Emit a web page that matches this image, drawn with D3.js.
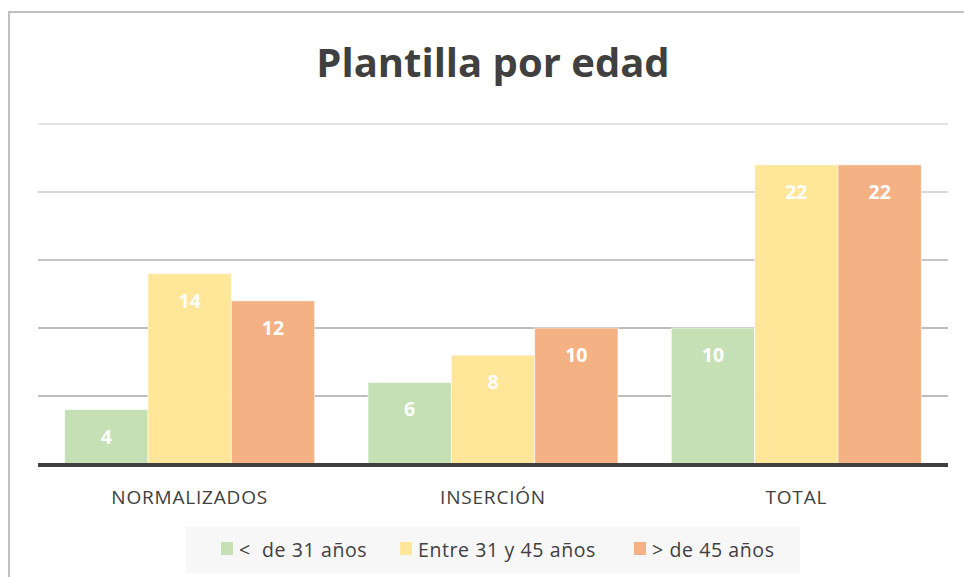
<!DOCTYPE html>
<html>
<head>
<meta charset="utf-8">
<script src="https://cdn.jsdelivr.net/npm/d3@7"></script>
<style>
html,body{margin:0;padding:0;background:#fff;}
svg{display:block;}
</style>
</head>
<body>
<svg id="chart" width="964" height="577"></svg>
<script>
const categories = ["NORMALIZADOS", "INSERCIÓN", "TOTAL"];
const seriesNames = ["<  de 31 años", "Entre 31 y 45 años", "> de 45 años"];
const seriesColors = ["#c5e0b4", "#ffe699", "#f4b183"];
const under31 = [4, 6, 10];
const between31and45 = [14, 8, 22];
const over45 = [12, 10, 22];
const gridTicks = [5, 10, 15, 20, 25];
const seriesValues = [under31, between31and45, over45];

(function () {
const svg = d3.select("#chart");
const font = "'Open Sans', 'Liberation Sans', sans-serif";

svg.append("path")
  .attr("d", "M9,577 L9,12 L964,12")
  .attr("fill", "none").attr("stroke", "#c0c0c0").attr("stroke-width", 2);

const plotL = 38, plotR = 948, plotT = 124, plotB = 464;

const y = d3.scaleLinear().domain([0, 25]).range([plotB, plotT]);
const x0 = d3.scaleBand().domain(categories).range([plotL, plotR]).padding(0);
const x1 = d3.scaleBand().domain(d3.range(seriesNames.length))
  .range([0, x0.bandwidth()]).paddingInner(0).paddingOuter(0.32);

const gridColors = {5: "#bdbdbd", 10: "#bdbdbd", 15: "#c4c4c4", 20: "#d6d6d6", 25: "#e4e4e4"};
svg.append("g").selectAll("line").data(gridTicks).join("line")
  .attr("x1", plotL).attr("x2", plotR)
  .attr("y1", d => y(d)).attr("y2", d => y(d))
  .attr("stroke", d => gridColors[d]).attr("stroke-width", 2);

const rows = [];
categories.forEach((c, ci) => {
  seriesValues.forEach((vals, si) => rows.push({c, si, v: vals[ci]}));
});

const g = svg.append("g");
g.selectAll("rect").data(rows).join("rect")
  .attr("x", d => x0(d.c) + x1(d.si))
  .attr("y", d => y(d.v))
  .attr("width", x1.bandwidth())
  .attr("height", d => plotB - y(d.v))
  .attr("fill", d => seriesColors[d.si])
  .attr("stroke", "#ffffff").attr("stroke-opacity", 0.6).attr("stroke-width", 1);

g.selectAll("text").data(rows).join("text")
  .attr("x", d => x0(d.c) + x1(d.si) + x1.bandwidth() / 2)
  .attr("y", d => y(d.v) + 34)
  .attr("text-anchor", "middle")
  .attr("font-family", font).attr("font-weight", "bold").attr("font-size", 19.5)
  .attr("fill", "#ffffff")
  .text(d => d.v);

svg.append("line")
  .attr("x1", plotL).attr("x2", plotR)
  .attr("y1", plotB + 1).attr("y2", plotB + 1)
  .attr("stroke", "#404040").attr("stroke-width", 4);

const xAxis = d3.axisBottom(x0).tickSize(0).tickPadding(0);
const ax = svg.append("g").attr("transform", `translate(0,${plotB + 40})`).call(xAxis);
ax.select(".domain").remove();
ax.selectAll("text").attr("font-family", font).attr("font-size", 19)
  .attr("letter-spacing", 0.8)
  .attr("fill", "#404040").attr("dy", 0);

svg.append("text")
  .attr("x", 493).attr("y", 77)
  .attr("text-anchor", "middle")
  .attr("font-family", font).attr("font-weight", "bold").attr("font-size", 40)
  .attr("fill", "#404040")
  .text("Plantilla por edad");

const lg = svg.append("g");
lg.append("rect").attr("x", 186).attr("y", 527).attr("width", 614).attr("height", 46)
  .attr("fill", "#f7f7f7");
const legendX = [221, 400, 634];
seriesNames.forEach((name, i) => {
  lg.append("rect").attr("x", legendX[i]).attr("y", 542).attr("width", 12).attr("height", 13)
    .attr("fill", seriesColors[i]);
  lg.append("text").attr("x", legendX[i] + 18).attr("y", 557)
    .attr("font-family", font).attr("font-size", 19.5).attr("fill", "#404040")
    .attr("letter-spacing", 0.6)
    .style("white-space", "pre")
    .text(name);
});
})();
</script>
</body>
</html>
